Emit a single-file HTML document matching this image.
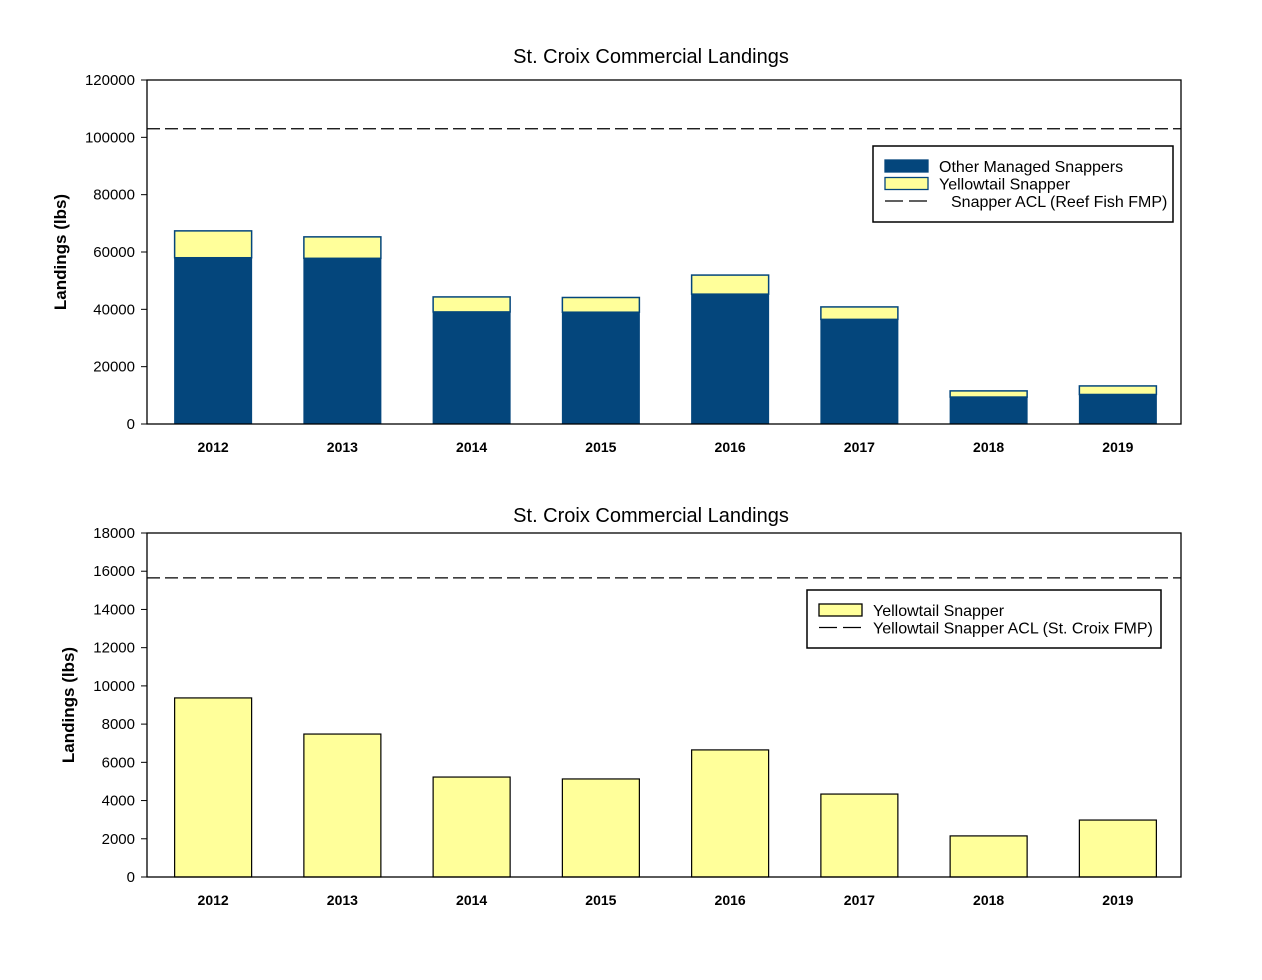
<!DOCTYPE html>
<html><head><meta charset="utf-8"><style>
body{margin:0;background:#fff;}
svg text{font-family:"Liberation Sans",Arial,sans-serif;}
</style></head><body>
<svg id="chart" width="1262" height="975" xmlns="http://www.w3.org/2000/svg"></svg>
<script>
const years = ["2012","2013","2014","2015","2016","2017","2018","2019"];
const otherSnappers = [58000,57800,39100,39000,45300,36500,9400,10300];
const yellowtail = [9370,7480,5230,5130,6650,4340,2150,2980];
const aclTop = 103000;
const aclBottom = 15650;
const topTicks = [0,20000,40000,60000,80000,100000,120000];
const bottomTicks = [0,2000,4000,6000,8000,10000,12000,14000,16000,18000];

const NS="http://www.w3.org/2000/svg";
const svg=document.getElementById('chart');
function mk(tag,attrs,parent,text){const e=document.createElementNS(NS,tag);for(const k in attrs)e.setAttribute(k,attrs[k]);if(text!==undefined)e.textContent=text;(parent||svg).appendChild(e);return e;}

function panel(cfg){
  const g=mk('g',{});
  
  
  const L=147,R=1181,T=cfg.top,B=cfg.top+344,max=cfg.ticks[cfg.ticks.length-1];
  const y=v=>B-v/max*(B-T);
  const band=(R-L)/years.length;
  const x=i=>L+band*i+band/2+1.5;
  const t=mk('text',{x:651,y:T+cfg.titleDy,'text-anchor':'middle','font-size':20},g,'St. Croix Commercial Landings');
  
  const yt=mk('text',{transform:`translate(${cfg.ytx},${(T+B)/2}) rotate(-90)`,'text-anchor':'middle','font-size':17,'font-weight':'bold'},g,'Landings (lbs)');
  
  cfg.ticks.forEach(v=>{
    mk('line',{x1:L-6,x2:L,y1:y(v),y2:y(v),stroke:'#000'},g);
    const tl=mk('text',{x:135,y:y(v)+5,'text-anchor':'end','font-size':15},g,String(v));
    
  });
  years.forEach((yr,i)=>{
    const bw=77,bx=x(i)-bw/2;
    if(cfg.stacked){
      const o=otherSnappers[i],yl=yellowtail[i];
      const b1=mk('rect',{x:bx,y:y(o),width:bw,height:y(0)-y(o),fill:'#04467c',stroke:'#04467c'},g);
      
      const b2=mk('rect',{x:bx,y:y(o+yl),width:bw,height:y(o)-y(o+yl),fill:'#ffff9a',stroke:'#04467c','stroke-width':1.5},g);
      
    }else{
      const b=mk('rect',{x:bx,y:y(yellowtail[i]),width:bw,height:y(0)-y(yellowtail[i]),fill:'#ffff9a',stroke:'#000','stroke-width':1.2},g);
      
    }
    const xl=mk('text',{x:x(i),y:B+28,'text-anchor':'middle','font-size':14,'font-weight':'bold'},g,yr);
    
  });
  const acl=mk('line',{x1:L,x2:R,y1:y(cfg.acl),y2:y(cfg.acl),stroke:'#000','stroke-width':1.3,'stroke-dasharray':'13,5'},g);
  
  const fr=mk('rect',{x:L,y:T,width:R-L,height:B-T,fill:'none',stroke:'#000','stroke-width':1.3},g);
  
  const lg=mk('g',{},g);
  
  const lb=cfg.legend;
  mk('rect',{x:lb.x,y:lb.y,width:lb.w,height:lb.h,fill:'#fff',stroke:'#000','stroke-width':1.5},lg);
  lb.items.forEach((it,k)=>{
    const ry=lb.y+14+k*17.5;
    if(it.type==='rect')mk('rect',{x:lb.x+12,y:ry,width:43,height:12,fill:it.fill,stroke:it.stroke,'stroke-width':1.3},lg);
    else mk('line',{x1:lb.x+12,x2:lb.x+60,y1:ry+6,y2:ry+6,stroke:'#000','stroke-width':1.3,'stroke-dasharray':'18,6'},lg);
    const e=mk('text',{x:lb.x+(it.type==='rect'?66:it.tx),y:ry+12,'font-size':16},lg,it.label);
    
  });
}
panel({name:'top-chart',top:80,titleDy:-17,ticks:topTicks,stacked:true,acl:aclTop,ytx:66,
  legend:{x:873,y:146,w:300,h:76,items:[
    {type:'rect',fill:'#04467c',stroke:'#04467c',label:'Other Managed Snappers'},
    {type:'rect',fill:'#ffff9a',stroke:'#04467c',label:'Yellowtail Snapper'},
    {type:'line',label:'Snapper ACL (Reef Fish FMP)',tx:78}]}});
panel({name:'bottom-chart',top:533,titleDy:-11,ticks:bottomTicks,stacked:false,acl:aclBottom,ytx:74,
  legend:{x:807,y:590,w:354,h:58,items:[
    {type:'rect',fill:'#ffff9a',stroke:'#000',label:'Yellowtail Snapper'},
    {type:'line',label:'Yellowtail Snapper ACL (St. Croix FMP)',tx:66}]}});
</script>
</body></html>
